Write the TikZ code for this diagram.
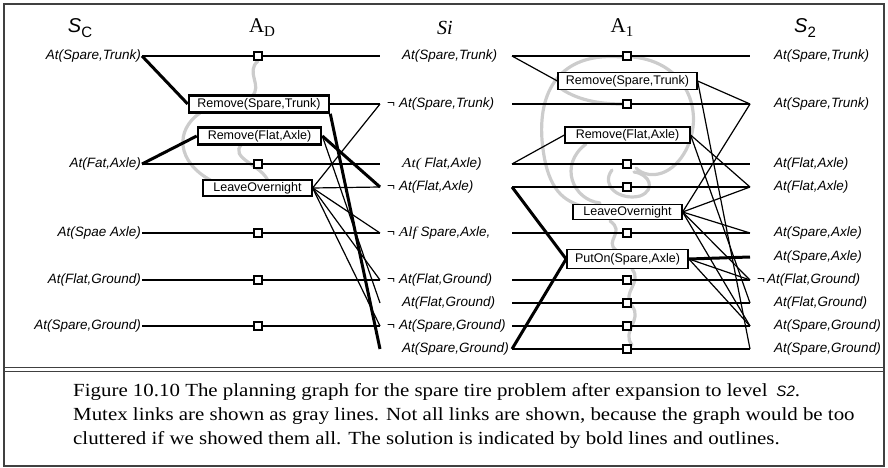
\documentclass[tikz,border=0pt]{standalone}
\usepackage{fontspec}
\setmainfont{Liberation Serif}
\newfontfamily\labf{Liberation Sans}
\newfontfamily\capf[FakeStretch=1.13]{Liberation Serif}
\begin{document}
\begin{tikzpicture}[x=1pt,y=-1pt,
  lab/.style={font=\labf\itshape\fontsize{13.5}{15}\selectfont, inner sep=1pt},
  act/.style={draw, line width=1.2pt, fill=white, font=\labf\fontsize{12.5}{13}\selectfont, inner sep=0pt, minimum height=17pt},
  solact/.style={act, line width=2.6pt},
  sq/.style={draw, line width=1.2pt, fill=white, minimum size=8pt, inner sep=0pt},
  ln/.style={line width=1.2pt},
  bold/.style={line width=3pt},
  mutex/.style={draw=gray!40, line width=3.2pt, line cap=round},
  hdr/.style={inner sep=0pt},
  captxt/.style={anchor=base west, inner sep=0pt, font=\capf\fontsize{18.5}{20}\selectfont}
]
\useasboundingbox (0,0) rectangle (888,468);
% frame
\draw[line width=1.3pt, draw=black!75] (4,4) rectangle (884,466);
\draw[line width=1pt, draw=black!75] (4,367) -- (884,367);
\draw[line width=1pt, draw=black!75] (4,371) -- (884,371);

% headers
\node[hdr] (h0) at (80,28) {\labf\itshape\fontsize{20}{20}\selectfont S\raisebox{-5pt}{\upshape\fontsize{15}{15}\selectfont C}};
\node[hdr] (h1) at (262,28) {\fontsize{21}{21}\selectfont A\raisebox{-4pt}{\fontsize{15}{15}\selectfont D}};
\node[hdr] (h2) at (445,28) {\itshape\fontsize{20}{20}\selectfont Si};
\node[hdr] (h3) at (622,28) {\fontsize{21}{21}\selectfont A\raisebox{-4pt}{\fontsize{15}{15}\selectfont 1}};
\node[hdr] (h4) at (805,28) {\labf\itshape\fontsize{20}{20}\selectfont S\raisebox{-5pt}{\upshape\fontsize{15}{15}\selectfont 2}};

% mutex links (gray)
\draw[mutex] (258,61) .. controls (245,72) and (263,86) .. (252,96);
\draw[mutex] (200,113) .. controls (175,130) and (176,162) .. (212,181);
\draw[mutex] (242,144) .. controls (228,158) and (262,165) .. (268,181);
\draw[mutex] (622,57) .. controls (565,52) and (538,85) .. (542,140) .. controls (546,185) and (560,200) .. (582,206);
\draw[mutex] (560,88) .. controls (580,102) and (605,104) .. (622,104);
\draw[mutex] (633,57) .. controls (685,62) and (706,110) .. (686,150) .. controls (670,180) and (645,178) .. (636,168);
\draw[mutex] (586,144) .. controls (558,165) and (573,200) .. (600,203);
\draw[mutex] (612,170) .. controls (600,186) and (620,201) .. (640,196) .. controls (656,190) and (650,174) .. (634,172);
\draw[mutex] (610,221) .. controls (626,232) and (604,241) .. (616,250);
\draw[mutex] (632,269) .. controls (643,283) and (621,292) .. (632,306) .. controls (643,320) and (621,331) .. (632,345);

% S0 labels
\node[lab, anchor=east] (s0a) at (142,56) {At(Spare,Trunk)};
\node[lab, anchor=east] (s0b) at (142,164) {At(Fat,Axle)};
\node[lab, anchor=east] (s0c) at (142,233) {At(Spae Axle)};
\node[lab, anchor=east] (s0d) at (142,280) {At(Flat,Ground)};
\node[lab, anchor=east] (s0e) at (142,326) {At(Spare,Ground)};

% S1 in-points and out-points
\foreach \n/\y in {a/56,b/104,c/164,d/187,e/233,f/280,g/303,h/326,i/349}{
  \coordinate (i1\n) at (380,\y);
  \coordinate (o1\n) at (512,\y);
}
% S2 in-points
\foreach \n/\y in {a/56,b/104,c/164,d/187,e/233,f/257,g/280,h/303,i/326,j/349}{
  \coordinate (e2\n) at (750,\y);
}

% S1 labels
\node[lab, anchor=west] (l1a) at (401,56) {At(Spare,Trunk)};
\node[lab, anchor=west] (l1b) at (386,104) {¬\hspace{4pt}At(Spare,Trunk)};
\node[lab, anchor=west] (l1c) at (401,164) {{\capf\itshape At(} Flat,Axle)};
\node[lab, anchor=west] (l1d) at (386,187) {¬\hspace{4pt}At(Flat,Axle)};
\node[lab, anchor=west] (l1e) at (386,233) {¬\hspace{4pt}{\capf\itshape Alf} Spare,Axle,};
\node[lab, anchor=west] (l1f) at (386,280) {¬\hspace{4pt}At(Flat,Ground)};
\node[lab, anchor=west] (l1g) at (401,303) {At(Flat,Ground)};
\node[lab, anchor=west] (l1h) at (386,326) {¬\hspace{4pt}At(Spare,Ground)};
\node[lab, anchor=west] (l1i) at (401,349) {At(Spare,Ground)};

% S2 labels
\node[lab, anchor=west] (l2a) at (773,56) {At(Spare,Trunk)};
\node[lab, anchor=west] (l2b) at (773,104) {At(Spare,Trunk)};
\node[lab, anchor=west] (l2c) at (773,164) {At(Flat,Axle)};
\node[lab, anchor=west] (l2d) at (773,187) {At(Flat,Axle)};
\node[lab, anchor=west] (l2e) at (773,233) {At(Spare,Axle)};
\node[lab, anchor=west] (l2f) at (773,257) {At(Spare,Axle)};
\node[lab, anchor=west] (l2g) at (756,280) {¬\hspace{2pt}At(Flat,Ground)};
\node[lab, anchor=west] (l2h) at (773,303) {At(Flat,Ground)};
\node[lab, anchor=west] (l2i) at (773,326) {At(Spare,Ground)};
\node[lab, anchor=west] (l2j) at (773,349) {At(Spare,Ground)};

% A0 no-op squares
\node[sq] (q0a) at (258,56) {};
\node[sq] (q0c) at (258,164) {};
\node[sq] (q0e) at (258,233) {};
\node[sq] (q0f) at (258,280) {};
\node[sq] (q0h) at (258,326) {};
% A1 no-op squares
\foreach \n/\y in {a/56,b/104,c/164,d/187,e/233,f/280,g/303,h/326,i/349}{
  \node[sq] (q1\n) at (627,\y) {};
}

% A0 persistence lines
\draw[ln] (s0a.east) -- (q0a) -- (i1a);
\draw[ln] (s0b.east) -- (q0c) -- (i1c);
\draw[ln] (s0c.east) -- (q0e) -- (i1e);
\draw[ln] (s0d.east) -- (q0f) -- (i1f);
\draw[ln] (s0e.east) -- (q0h) -- (i1h);

% A1 persistence lines
\draw[ln] (o1a) -- (q1a) -- (e2a);
\draw[ln] (o1b) -- (q1b) -- (e2b);
\draw[ln] (o1c) -- (q1c) -- (e2c);
\draw[ln] (o1d) -- (q1d) -- (e2d);
\draw[ln] (o1e) -- (q1e) -- (e2e);
\draw[ln] (o1f) -- (q1f) -- (e2g);
\draw[ln] (o1g) -- (q1g) -- (e2h);
\draw[ln] (o1h) -- (q1h) -- (e2i);
\draw[ln] (o1i) -- (q1i) -- (e2j);

% A0 actions
\node[solact, minimum width=140pt] (rst0) at (259,104) {Remove(Spare,Trunk)};
\node[solact, minimum width=123pt] (rfa0) at (259.5,136) {Remove(Flat,Axle)};
\node[act, minimum width=109pt, minimum height=16pt] (lo0) at (257.5,188) {LeaveOvernight};

% A1 actions
\node[act, minimum width=139pt] (rst1) at (627.5,81) {Remove(Spare,Trunk)};
\node[act, minimum width=125pt, minimum height=16pt] (rfa1) at (627.5,135) {Remove(Flat,Axle)};
\node[act, minimum width=109pt, minimum height=15pt] (lo1) at (627.5,212) {LeaveOvernight};
\node[act, line width=1.8pt, minimum width=121pt, minimum height=19pt] (put1) at (627.5,259) {PutOn(Spare,Axle)};

% S0 -> A0 preconditions
\draw[bold] (s0a.east) -- (rst0.west);
\draw[bold] (s0b.east) -- (rfa0.west);

% A0 -> S1 effects
\draw[ln] (rst0.east) -- (i1b);
\draw[bold] (rst0.south east) -- (i1i);
\draw[bold] (rfa0.east) -- (i1d);
\draw[ln] (rfa0.east) -- (i1g);
\draw[ln] (lo0.east) -- (i1b);
\draw[ln] (lo0.east) -- (i1d);
\draw[ln] (lo0.east) -- (i1e);
\draw[ln] (lo0.east) -- (i1f);
\draw[ln] (lo0.east) -- (i1h);

% S1 -> A1 preconditions
\draw[ln] (o1a) -- (rst1.west);
\draw[ln] (o1c) -- (rfa1.west);
\draw[bold] (o1d) -- (put1.west);
\draw[bold] (o1i) -- (put1.west);

% A1 -> S2 effects
\draw[ln] (rst1.east) -- (e2b);
\draw[ln] (rst1.east) -- (e2j);
\draw[ln] (rfa1.east) -- (e2d);
\draw[ln] (rfa1.east) -- (e2h);
\draw[ln] (lo1.east) -- (e2b);
\draw[ln] (lo1.east) -- (e2d);
\draw[ln] (lo1.east) -- (e2e);
\draw[ln] (lo1.east) -- (e2g);
\draw[ln] (lo1.east) -- (e2i);
\draw[bold] (put1.east) -- (e2f);
\draw[ln] (put1.east) -- (e2g);
\draw[ln] (put1.east) -- (e2i);

% caption
\node[captxt] (c1) at (73,396) {Figure 10.10 The planning graph for the spare tire problem after expansion to level\hspace{9pt}{\labf\itshape\fontsize{15}{15}\selectfont S2}.};
\node[captxt] (c2) at (73,420) {Mutex links are shown as gray lines. Not all links are shown, because the graph would be too};
\node[captxt] (c3) at (73,444) {cluttered if we showed them all. The solution is indicated by bold lines and outlines.};
\end{tikzpicture}
\end{document}
